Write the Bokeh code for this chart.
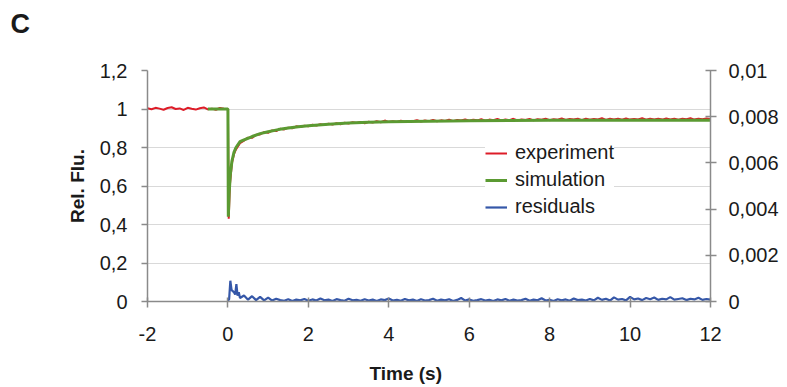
from bokeh.plotting import figure
from bokeh.models import (Range1d, LinearAxis, FixedTicker, CustomJSTickFormatter,
                          Legend, LegendItem, Title)
from bokeh.embed import file_html
from bokeh.resources import INLINE

# ---------------- data ----------------
x_ticks = [-2, 0, 2, 4, 6, 8, 10, 12]
left_ticks = [0, 0.2, 0.4, 0.6, 0.8, 1.0, 1.2]
right_ticks = [0, 0.002, 0.004, 0.006, 0.008, 0.01]

exp_t = [
    -2.0, -1.9, -1.8, -1.7, -1.6, -1.5, -1.4, -1.3, -1.2, -1.1,
    -1.0, -0.9, -0.8, -0.7, -0.6, -0.5, -0.4, -0.3, -0.2, -0.1,
    0.0, 0.02, 0.05, 0.1, 0.15, 0.2,
    0.3, 0.4, 0.5, 0.6, 0.7, 0.8, 0.9, 1.0, 1.1, 1.2,
    1.3, 1.4, 1.5, 1.6, 1.7, 1.8, 1.9, 2.0, 2.1, 2.2,
    2.3, 2.4, 2.5, 2.6, 2.7, 2.8, 2.9, 3.0, 3.1, 3.2,
    3.3, 3.4, 3.5, 3.6, 3.7, 3.8, 3.9, 4.0, 4.1, 4.2,
    4.3, 4.4, 4.5, 4.6, 4.7, 4.8, 4.9, 5.0, 5.1, 5.2,
    5.3, 5.4, 5.5, 5.6, 5.7, 5.8, 5.9, 6.0, 6.1, 6.2,
    6.3, 6.4, 6.5, 6.6, 6.7, 6.8, 6.9, 7.0, 7.1, 7.2,
    7.3, 7.4, 7.5, 7.6, 7.7, 7.8, 7.9, 8.0, 8.1, 8.2,
    8.3, 8.4, 8.5, 8.6, 8.7, 8.8, 8.9, 9.0, 9.1, 9.2,
    9.3, 9.4, 9.5, 9.6, 9.7, 9.8, 9.9, 10.0, 10.1, 10.2,
    10.3, 10.4, 10.5, 10.6, 10.7, 10.8, 10.9, 11.0, 11.1, 11.2,
    11.3, 11.4, 11.5, 11.6, 11.7, 11.8, 11.9, 12.0,
]
experiment = [
    1.004, 0.999, 1.006, 1.002, 0.996, 1.005, 1.009, 1.000, 1.003, 0.995,
    1.006, 1.001, 0.997, 1.004, 1.008, 0.998, 1.002, 0.996, 1.005, 1.001,
    1.000, 0.430, 0.610, 0.720, 0.765, 0.790,
    0.822, 0.836, 0.851, 0.850, 0.866, 0.868, 0.880, 0.876, 0.889, 0.885,
    0.897, 0.894, 0.903, 0.900, 0.910, 0.906, 0.913, 0.910, 0.918, 0.914,
    0.921, 0.917, 0.924, 0.919, 0.926, 0.921, 0.929, 0.925, 0.931, 0.927,
    0.933, 0.926, 0.934, 0.930, 0.936, 0.931, 0.940, 0.932, 0.937, 0.933,
    0.939, 0.934, 0.938, 0.936, 0.942, 0.935, 0.940, 0.937, 0.943, 0.936,
    0.941, 0.938, 0.945, 0.937, 0.943, 0.940, 0.946, 0.939, 0.944, 0.941,
    0.947, 0.939, 0.945, 0.942, 0.948, 0.940, 0.946, 0.942, 0.949, 0.941,
    0.945, 0.943, 0.948, 0.941, 0.947, 0.944, 0.950, 0.942, 0.947, 0.944,
    0.951, 0.943, 0.948, 0.945, 0.949, 0.942, 0.950, 0.944, 0.948, 0.946,
    0.952, 0.943, 0.949, 0.945, 0.950, 0.944, 0.951, 0.945, 0.948, 0.946,
    0.952, 0.944, 0.950, 0.946, 0.949, 0.945, 0.951, 0.946, 0.950, 0.944,
    0.949, 0.947, 0.952, 0.945, 0.950, 0.947, 0.951, 0.948,
]

sim_t = [-0.5, 0.0, 0.01, 0.03, 0.06, 0.1, 0.15, 0.2, 0.3, 0.4, 0.5, 0.6, 0.8,
         1.0, 1.25, 1.5, 1.75, 2.0, 2.5, 3.0, 3.5, 4.0, 5.0, 6.0, 7.0, 8.0,
         9.0, 10.0, 11.0, 12.0]
simulation = [1.0, 1.0, 0.44, 0.56, 0.66, 0.73, 0.775, 0.80, 0.83, 0.84, 0.848,
              0.857, 0.872, 0.882, 0.893, 0.901, 0.908, 0.913, 0.921, 0.927,
              0.931, 0.934, 0.937, 0.939, 0.940, 0.941, 0.941, 0.942, 0.942, 0.942]

res_t_start = [0.0, 0.03, 0.06, 0.09, 0.12, 0.15, 0.18, 0.21, 0.24, 0.27]
res_start_1e4 = [0.3, 1.0, 9.0, 5.0, 4.5, 4.0, 3.0, 7.5, 2.5, 4.0]
# residuals from t = 0.3 s to 12.0 s (same times as the experiment), in units of 1e-4
res_rest_1e4 = [
    1.5, 2.6, 0.8, 2.3, 0.6, 2.0, 0.5, 1.7, 0.4, 1.2,
    0.6, 0.3, 1.0, 0.2, 0.8, 0.5, 1.1, 0.3, 0.9, 0.4,
    1.3, 0.5, 0.8, 0.2, 1.0, 0.6, 0.3, 1.2, 0.5, 0.7,
    0.3, 1.0, 0.4, 0.8, 0.2, 0.9, 0.6, 1.3, 0.4, 0.7,
    0.3, 1.1, 0.5, 0.8, 0.2, 1.0, 0.4, 0.6, 1.2, 0.3,
    0.8, 0.5, 1.0, 0.2, 0.7, 1.5, 0.4, 0.9, 0.3, 0.6,
    1.0, 0.4, 0.7, 0.2, 0.9, 0.5, 1.1, 0.3, 0.8, 0.4,
    0.6, 1.2, 0.3, 0.8, 0.5, 1.4, 0.4, 0.7, 0.2, 1.0,
    0.5, 0.9, 0.3, 1.3, 0.6, 0.8, 0.4, 1.1, 0.5, 1.6,
    0.7, 1.2, 0.4, 1.8, 0.8, 1.1, 0.5, 2.0, 0.9, 1.3,
    0.6, 1.5, 1.0, 1.7, 0.7, 1.2, 0.9, 1.9, 0.8, 1.1,
    1.4, 0.6, 1.2, 0.9, 1.6, 0.7, 1.1, 0.8,
]
res_t = res_t_start + exp_t[26:]
residuals = [v * 1e-4 for v in res_start_1e4 + res_rest_1e4]

# ---------------- styling ----------------
FONT = "Liberation Sans"
AXIS_GREY = "#8a8a8a"
TXT = "#1a1a1a"
RED = "#dd1c28"
GREEN = "#5b9a32"
BLUE = "#3557a8"

p = figure(width=785, height=385, x_range=Range1d(-2, 12), y_range=Range1d(0, 1.2),
           output_backend="svg", toolbar_location=None,
           min_border_left=147, min_border_right=75, min_border_top=70, min_border_bottom=84)
p.extra_y_ranges = {"res": Range1d(0, 0.01)}
p.outline_line_color = None
p.background_fill_color = "white"
p.border_fill_color = "white"

p.xgrid.visible = False
p.ygrid.ticker = FixedTicker(ticks=left_ticks)
p.ygrid.grid_line_color = "#d9d9d9"
p.ygrid.grid_line_width = 1


def style_axis(ax):
    ax.axis_line_color = AXIS_GREY
    ax.axis_line_width = 1.5
    ax.major_tick_line_color = AXIS_GREY
    ax.major_tick_line_width = 1.5
    ax.minor_tick_line_color = None
    ax.major_label_text_font = FONT
    ax.major_label_text_font_size = "20px"
    ax.major_label_text_color = TXT
    ax.axis_label_text_font = FONT
    ax.axis_label_text_font_style = "bold"
    ax.axis_label_text_font_size = "19px"
    ax.axis_label_text_color = TXT


xa = p.xaxis[0]
style_axis(xa)
xa.ticker = FixedTicker(ticks=x_ticks)
xa.major_tick_in = 4
xa.major_tick_out = 6
xa.major_label_standoff = 19
xa.formatter = CustomJSTickFormatter(code="return String(tick);")

ya = p.yaxis[0]
style_axis(ya)
ya.ticker = FixedTicker(ticks=left_ticks)
ya.major_tick_in = 0
ya.major_tick_out = 6
ya.major_label_standoff = 14
ya.axis_label = "Rel. Flu."
ya.axis_label_standoff = 9
ya.formatter = CustomJSTickFormatter(
    code="return String(Math.round(tick*10)/10).replace('.', ',');")

ra = LinearAxis(y_range_name="res", ticker=FixedTicker(ticks=right_ticks))
style_axis(ra)
ra.major_tick_in = 5
ra.major_tick_out = 6
ra.major_label_standoff = 12
ra.formatter = CustomJSTickFormatter(
    code="return String(Math.round(tick*1000)/1000).replace('.', ',');")
p.add_layout(ra, "right")

r_exp = p.line(exp_t, experiment, line_color=RED, line_width=2)
r_sim = p.line(sim_t, simulation, line_color=GREEN, line_width=3)
r_res = p.line(res_t, residuals, line_color=BLUE, line_width=2.2, y_range_name="res")

legend = Legend(items=[LegendItem(label="experiment", renderers=[r_exp]),
                       LegendItem(label="simulation", renderers=[r_sim]),
                       LegendItem(label="residuals", renderers=[r_res])],
                location=(338, 83))
legend.label_text_font = FONT
legend.label_text_font_size = "20px"
legend.label_text_color = TXT
legend.glyph_width = 22
legend.glyph_height = 20
legend.label_height = 20
legend.spacing = 4
legend.padding = 8
legend.margin = 0
legend.label_standoff = 8
legend.border_line_color = None
legend.background_fill_color = "white"
legend.background_fill_alpha = 1.0
p.add_layout(legend, "center")

# x-axis title (sits left of the frame centre, as in the original)
xtitle = Title(text="\nTime (s)", align="left", offset=222, vertical_align="top",
               text_font=FONT, text_font_style="bold", text_font_size="19px",
               text_color=TXT, standoff=-4)
p.add_layout(xtitle, "below")

# panel letter in the top-left corner
panel_label = Title(text="C\n", align="left", offset=-137, vertical_align="top",
                    text_font=FONT, text_font_style="bold", text_font_size="27px",
                    text_color=TXT, standoff=0)
p.add_layout(panel_label, "above")

open("out.html", "w").write(file_html(p, INLINE))
